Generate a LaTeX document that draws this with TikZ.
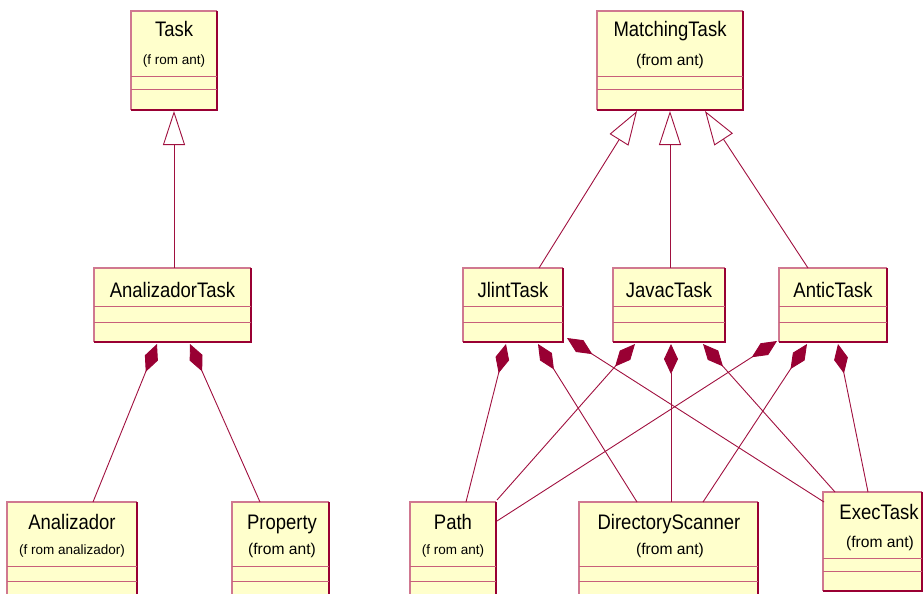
\documentclass[tikz,border=0pt]{standalone}
\usepackage{fontspec}
\setmainfont{Liberation Sans}
\usetikzlibrary{arrows.meta}
\definecolor{boxfill}{HTML}{FFFFCC}
\definecolor{darkc}{HTML}{990033}
\definecolor{lightc}{HTML}{D07890}
\definecolor{divc}{HTML}{C8607A}
\definecolor{linec}{HTML}{A0103F}
\newcommand{\nm}[1]{\scalebox{0.88}[1]{\fontsize{21}{22}\selectfont #1}}
\newcommand{\umlcls}[7]{%
  \node[clsbox, minimum width={(#4-#2)*1pt}, minimum height={(#5-#3)*1pt}, anchor=north west] (#1) at (#2,#3) {};
  \draw[edgelight] (#1.south west) -- (#1.north west) -- (#1.north east);
  \draw[edgedark] (#1.north east) -- (#1.south east) -- (#1.south west);
  \draw[divline] (#2,#6) -- (#4,#6);
  \draw[divline] (#2,#7) -- (#4,#7);
}
\tikzset{
  clsbox/.style={rectangle, fill=boxfill, draw=none, inner sep=0pt, outer sep=0pt},
  edgelight/.style={draw=lightc, line width=1.2pt},
  edgedark/.style={draw=darkc, line width=1.4pt},
  divline/.style={draw=divc, line width=1pt},
  title/.style={anchor=base, inner sep=0pt, text=black, font=\fontsize{21}{22}\selectfont},
  subA/.style={anchor=base, inner sep=0pt, text=black, font=\fontsize{15.6}{17}\selectfont},
  subB/.style={anchor=base, inner sep=0pt, text=black, font=\fontsize{13.5}{15}\selectfont},
  gen/.style={draw=linec, line width=0.9pt, {Triangle[open, fill=white, length=34pt, width=22pt]}-},
  comp/.style={draw=linec, line width=0.9pt, {Diamond[length=30pt, width=14pt, color=darkc, fill=darkc]}-},
}
\begin{document}
\begin{tikzpicture}[x=1pt,y=-1pt]
\useasboundingbox (0,0) rectangle (924,594);
% classes
\umlcls{task}{131}{11}{217}{110}{77}{90}
\umlcls{mtask}{597}{11}{743}{110}{77}{90}
\umlcls{atask}{94}{268}{251}{342}{306}{322}
\umlcls{jlint}{463}{268}{563}{342}{306}{322}
\umlcls{javac}{613}{268}{725}{342}{306}{322}
\umlcls{antic}{779}{268}{887}{342}{306}{322}
\umlcls{anal}{7}{502}{137}{600}{566}{581}
\umlcls{prop}{232}{502}{329}{600}{566}{581}
\umlcls{path}{410}{502}{496}{600}{566}{581}
\umlcls{dirs}{579}{502}{758}{600}{566}{581}
\umlcls{exec}{823}{492}{922}{591}{558}{571}
% texts
\node[title] (taskT) at (174,37) {\nm{Task}};
\node[subB] (taskS) at (174,65) {(f rom ant)};
\node[title] (mtaskT) at (670,37) {\nm{MatchingTask}};
\node[subA] (mtaskS) at (670,66) {(from ant)};
\node[title] (ataskT) at (172.5,297) {\nm{AnalizadorTask}};
\node[title] (jlintT) at (513,297) {\nm{JlintTask}};
\node[title] (javacT) at (669,297) {\nm{JavacTask}};
\node[title] (anticT) at (833,297) {\nm{AnticTask}};
\node[title] (analT) at (72,529) {\nm{Analizador}};
\node[subB] (analS) at (72,554) {(f rom analizador)};
\node[title] (propT) at (282,529) {\nm{Property}};
\node[subA] (propS) at (282,554) {(from ant)};
\node[title] (pathT) at (453,529) {\nm{Path}};
\node[subB] (pathS) at (453,554) {(f rom ant)};
\node[title] (dirsT) at (669,529) {\nm{DirectoryScanner}};
\node[subA] (dirsS) at (670,554) {(from ant)};
\node[title] (execT) at (879,519) {\nm{ExecTask}};
\node[subA] (execS) at (880,547) {(from ant)};
% connector end points
\coordinate (g1a) at (174,111); \coordinate (g1b) at (174,268);
\coordinate (g2a) at (637,111); \coordinate (g2b) at (539,268);
\coordinate (g3a) at (670,111); \coordinate (g3b) at (670,268);
\coordinate (g4a) at (705,111); \coordinate (g4b) at (808,268);
\coordinate (a1a) at (157,344); \coordinate (a1b) at (93,502);
\coordinate (a2a) at (190,344); \coordinate (a2b) at (260,502);
\coordinate (j1a) at (506,344); \coordinate (j1b) at (466,502);
\coordinate (j2a) at (538,344); \coordinate (j2b) at (637,502);
\coordinate (j3a) at (567,338); \coordinate (j3b) at (824,502);
\coordinate (v1a) at (635,344); \coordinate (v1b) at (497,500);
\coordinate (v2a) at (671,344); \coordinate (v2b) at (671,502);
\coordinate (v3a) at (703,344); \coordinate (v3b) at (835,492);
\coordinate (n1a) at (777,341); \coordinate (n1b) at (497,521);
\coordinate (n2a) at (807,344); \coordinate (n2b) at (703,502);
\coordinate (n3a) at (838,344); \coordinate (n3b) at (868,492);
% generalizations
\draw[gen] (g1a) -- (g1b);
\draw[gen] (g2a) -- (g2b);
\draw[gen] (g3a) -- (g3b);
\draw[gen] (g4a) -- (g4b);
% compositions
\draw[comp] (a1a) -- (a1b);
\draw[comp] (a2a) -- (a2b);
\draw[comp] (j1a) -- (j1b);
\draw[comp] (j2a) -- (j2b);
\draw[comp] (j3a) -- (j3b);
\draw[comp] (v1a) -- (v1b);
\draw[comp] (v2a) -- (v2b);
\draw[comp] (v3a) -- (v3b);
\draw[comp] (n1a) -- (n1b);
\draw[comp] (n2a) -- (n2b);
\draw[comp] (n3a) -- (n3b);
\end{tikzpicture}
\end{document}
